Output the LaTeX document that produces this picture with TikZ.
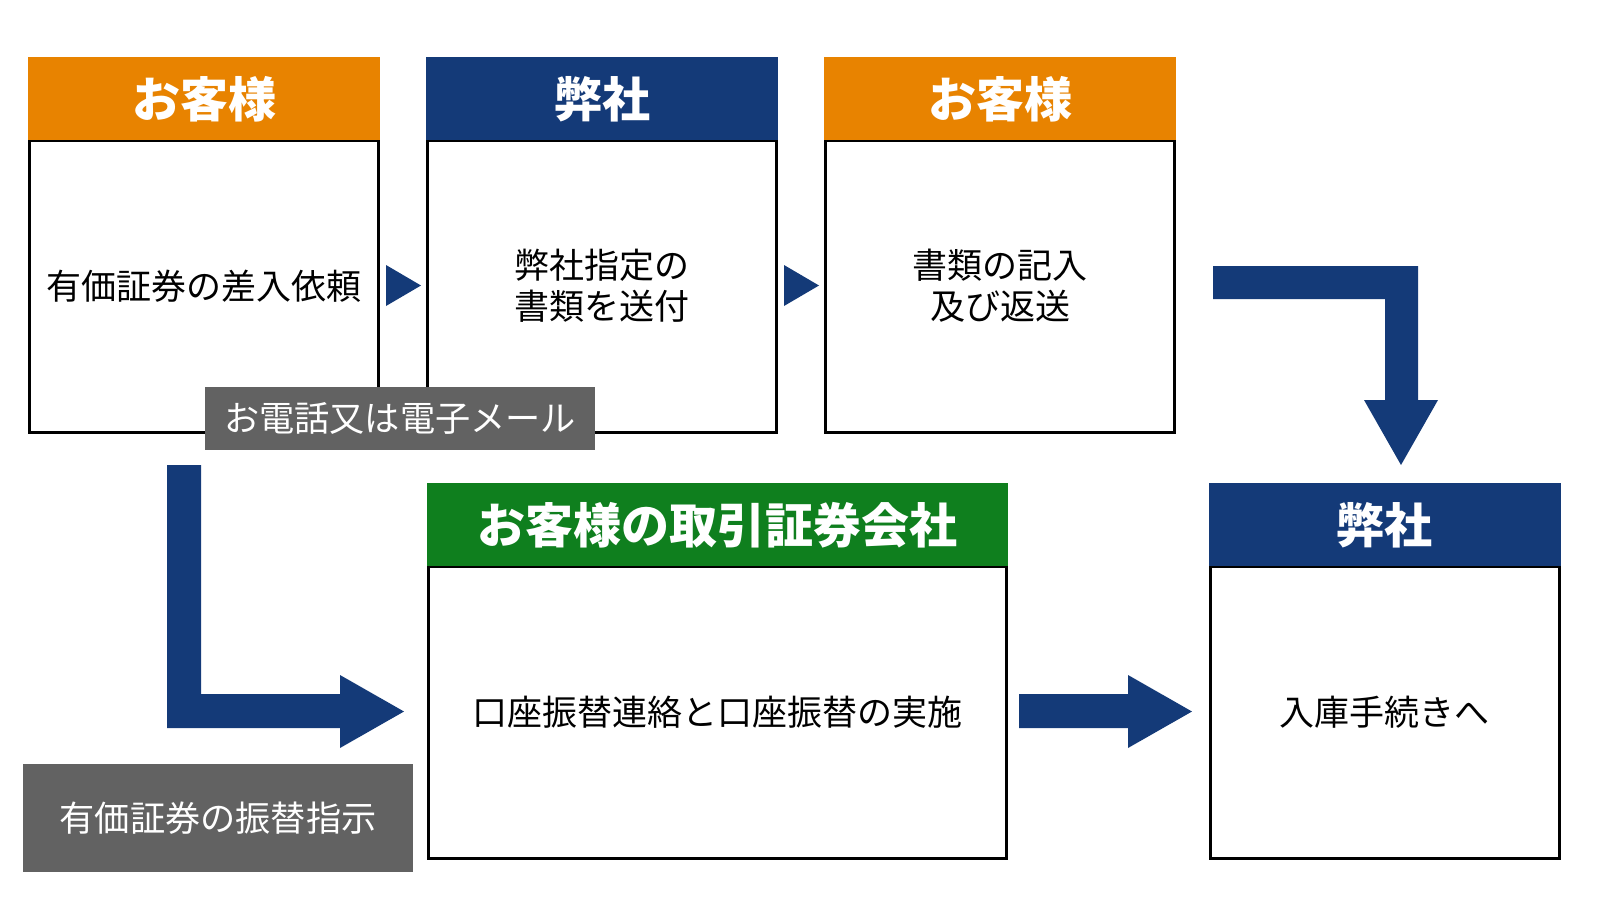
\documentclass[tikz,border=0pt]{standalone}
\usepackage{fontspec}
\newfontfamily\jp{Noto Sans CJK JP}
\definecolor{cOrange}{RGB}{232,131,0}
\definecolor{cNavy}{RGB}{20,58,120}
\definecolor{cGreen}{RGB}{15,127,30}
\definecolor{cGray}{RGB}{98,98,98}
\tikzset{
  hdr/.style={fill=#1, text=white, inner sep=0pt, outer sep=0pt, minimum height=83pt,
    text height=46pt, text depth=8pt,
    font=\jp\bfseries\fontsize{48}{52}\selectfont},
  bodybox/.style={draw=black, line width=3pt, fill=white, inner sep=0pt, outer sep=0pt,
    align=center, font=\jp\fontsize{35}{41}\selectfont},
  graylabel/.style={fill=cGray, text=white, inner sep=0pt, outer sep=0pt,
    font=\jp\fontsize{35.2}{41}\selectfont},
  blockarrow/.style={fill=cNavy, draw=none},
}
\begin{document}
\begin{tikzpicture}[x=1pt,y=-1pt]
\useasboundingbox (0,0) rectangle (1600,900);
% top row
\node[bodybox, minimum width=349pt, minimum height=292pt] (b1) at (204,286) {有価証券の差入依頼};
\node[hdr=cOrange, minimum width=352pt] (h1) at (204,98.5) {お客様};
\node[bodybox, minimum width=349pt, minimum height=292pt] (b2) at (602,286) {弊社指定の\\書類を送付};
\node[hdr=cNavy, minimum width=352pt] (h2) at (602,98.5) {弊社};
\node[bodybox, minimum width=349pt, minimum height=292pt] (b3) at (1000,286) {書類の記入\\及び返送};
\node[hdr=cOrange, minimum width=352pt] (h3) at (1000,98.5) {お客様};
% bottom row
\node[bodybox, minimum width=578pt, minimum height=292pt] (b4) at (717.5,712) {口座振替連絡と口座振替の実施};
\node[hdr=cGreen, minimum width=581pt] (h4) at (717.5,524.5) {お客様の取引証券会社};
\node[bodybox, minimum width=349pt, minimum height=292pt] (b5) at (1384.5,712) {入庫手続きへ};
\node[hdr=cNavy, minimum width=352pt] (h5) at (1384.5,524.5) {弊社};
% gray labels
\node[graylabel, minimum width=390pt, minimum height=63pt] (g1) at (400,418.5) {お電話又は電子メール};
\node[graylabel, minimum width=390pt, minimum height=108pt] (g2) at (218,818) {有価証券の振替指示};
% arrows
\fill[blockarrow] (386,265) -- (421,285.5) -- (386,306) -- cycle;
\fill[blockarrow] (784,265) -- (819,285.5) -- (784,306) -- cycle;
\fill[blockarrow] (1213,266) -- (1418,266) -- (1418,400) -- (1438,400) -- (1401,465)
  -- (1364,400) -- (1385,400) -- (1385,299) -- (1213,299) -- cycle;
\fill[blockarrow] (167,465) -- (201,465) -- (201,694) -- (340,694) -- (340,675)
  -- (404,711.5) -- (340,748) -- (340,728) -- (167,728) -- cycle;
\fill[blockarrow] (1019,694) -- (1128,694) -- (1128,675) -- (1192,711.5)
  -- (1128,748) -- (1128,728) -- (1019,728) -- cycle;
\end{tikzpicture}
\end{document}
